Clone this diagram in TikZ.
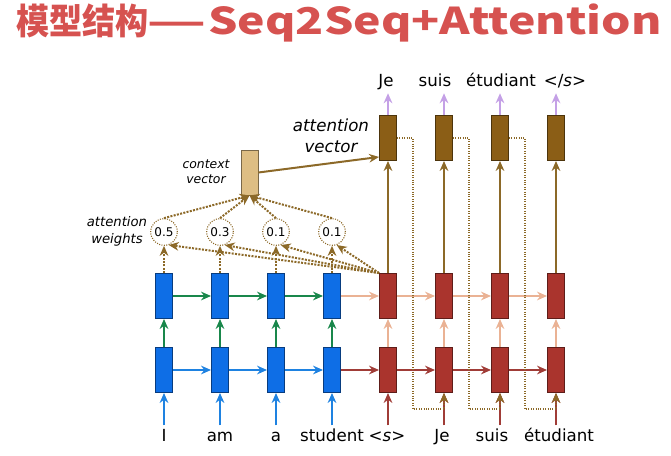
\documentclass[tikz,border=0pt]{standalone}
\usepackage{fontspec}
\setmainfont{DejaVu Sans}
\newfontfamily\cjk{Noto Sans CJK SC}
\usepackage{xcolor}
\usetikzlibrary{positioning, calc, arrows.meta}

\definecolor{titlered}{RGB}{214,82,80}
\definecolor{encblue}{RGB}{14,110,230}
\definecolor{decred}{RGB}{170,52,45}
\definecolor{attbrown}{RGB}{139,94,22}
\definecolor{ctxtan}{RGB}{222,190,132}
\definecolor{arblue}{RGB}{30,130,225}
\definecolor{argreen}{RGB}{25,135,75}
\definecolor{arsalmon}{RGB}{234,178,148}
\definecolor{ardred}{RGB}{160,60,55}
\definecolor{arbrown}{RGB}{140,105,40}
\definecolor{arpurple}{RGB}{196,160,230}

\tikzset{
  cell/.style={draw=#1!55!black, fill=#1, line width=0.7pt, inner sep=0pt,
    minimum width=12.75pt, minimum height=33.75pt},
  flow/.style={draw=#1, line width=1.5pt, -{Stealth[length=7.5pt, width=6.5pt]}},
  dots/.style={draw=arbrown, line width=1.5pt, densely dotted, -{Stealth[length=7.5pt, width=6.5pt]}},
  feed/.style={draw=arbrown, line width=0.8pt, densely dotted, -{Stealth[length=7.5pt, width=6.5pt]}},
  word/.style={anchor=base, inner sep=2pt, text height=9.5pt, text depth=2.5pt,
    font=\fontsize{12.5}{15}\selectfont},
  wt/.style={circle, draw=arbrown, densely dotted, line width=0.8pt, minimum size=20pt,
    inner sep=0pt, font=\fontsize{9}{10}\selectfont},
  lbl/.style 2 args={align=center, inner sep=0pt, font=\itshape\fontsize{#1}{#2}\selectfont}
}

\begin{document}
\begin{tikzpicture}[x=0.75pt, y=-0.75pt]
  \useasboundingbox (0,0) rectangle (671,456);

  \node[anchor=base west, inner sep=0pt, text=titlered] (ttl) at (16,35)
    {\resizebox{142pt}{23pt}{\cjk\bfseries 模型结构——}};
  \node[anchor=base west, inner sep=0pt, text=titlered] (ttlb) at (208,35)
    {\resizebox{340pt}{23pt}{\cjk\bfseries Seq2Seq+Attention}};

  \foreach \i in {1,...,4} {
    \node[cell=encblue] (eb\i) at ({108+56*\i},370) {};
    \node[cell=encblue] (et\i) at ({108+56*\i},296) {};
    \node[cell=decred] (db\i) at ({332+56*\i},370) {};
    \node[cell=decred] (dt\i) at ({332+56*\i},296) {};
    \node[cell=attbrown] (av\i) at ({332+56*\i},138) {};
  }
  \foreach \i/\v in {1/0.5, 2/0.3, 3/0.1, 4/0.1}
    \node[wt] (w\i) at ({108+56*\i},232) {\v};
  \node[cell=ctxtan] (cv) at (249.5,172.5) {};

  \foreach \i/\t in {1/I, 2/am, 3/a, 4/student}
    \node[word] (in\i) at ({108+56*\i},441) {\t};
  \node[word] (dn1) at (387,441) {<\textit{s}>};
  \node[word] (dn2) at (442,441) {Je};
  \node[word] (dn3) at (492,441) {suis};
  \node[word] (dn4) at (559,441) {étudiant};
  \node[word] (out1) at (386,87) {Je};
  \node[word] (out2) at (435,87) {suis};
  \node[word] (out3) at (501,87) {étudiant};
  \node[word] (out4) at (565,87) {</\textit{s}>};

  \node[lbl={12.5}{15.75}] (avlbl) at (331,136) {attention\\vector};
  \node[lbl={9.3}{11.25}] (cvlbl) at (206,172) {context\\vector};
  \node[lbl={9.9}{12.75}] (awlbl) at (117,231) {attention\\weights};

  \foreach \i in {1,...,4} {
    \draw[flow=arblue] (in\i.north -| eb\i) -- (eb\i);
    \draw[flow=argreen] (eb\i) -- (et\i);
    \draw[flow=ardred] (dn\i.north -| db\i) -- (db\i);
    \draw[flow=arsalmon] (db\i) -- (dt\i);
    \draw[flow=arbrown] (dt\i) -- (av\i);
    \draw[flow=arpurple] (av\i) -- (out\i.south -| av\i);
    \draw[dots] (et\i) -- (w\i);
    \draw[dots] (w\i.north) -- (cv.south);
    \draw[dots] (dt1.north west) -- (w\i.-70);
  }
  \foreach \i [count=\j from 2] in {1,2,3} {
    \draw[flow=arblue] (eb\i) -- (eb\j);
    \draw[flow=argreen] (et\i) -- (et\j);
    \draw[flow=ardred] (db\i) -- (db\j);
    \draw[flow=arsalmon] (dt\i) -- (dt\j);
    \draw[feed] (av\i.east) -- ++(16,0) |- ($(db\j.south)+(0,16)$) -- (db\j.south);
  }
  \draw[flow=ardred] (eb4) -- (db1);
  \draw[flow=arsalmon] (et4) -- (dt1);
  \draw[flow=arbrown] (cv.east) -- ([yshift=3pt]av1.south west);
\end{tikzpicture}
\end{document}
